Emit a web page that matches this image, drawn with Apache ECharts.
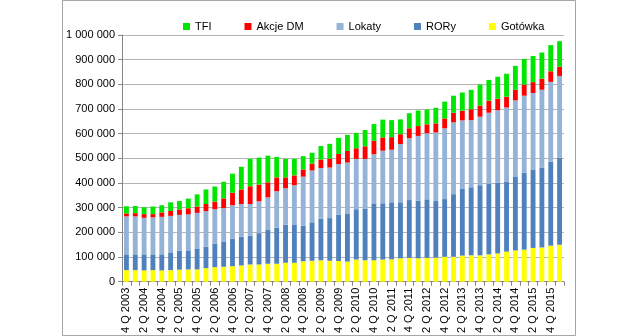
<!DOCTYPE html>
<html><head><meta charset="utf-8">
<script src="https://cdn.jsdelivr.net/npm/echarts@6/dist/echarts.min.js"></script>
<style>html,body{margin:0;padding:0;background:#fff}#c{width:642px;height:336px}</style>
</head><body><div id="c"></div>
<script>
var quarters = [];
(function(){ var q=4,y=2003; for(var i=0;i<50;i++){ quarters.push(q+' Q '+y); q++; if(q>4){q=1;y++;} } })();
var gotowka = [47,47,46,47,46,47,49,50,50,55,59,61,63,66,70,70,73,73,77,77,83,85,87,85,84,82,90,87,87,90,91,95,97,95,97,98,101,101,106,107,107,111,115,122,127,130,137,139,146,150];
var rory    = [64,64,65,64,65,72,77,77,85,87,96,100,111,117,117,127,137,146,154,153,144,156,168,173,187,193,204,210,228,228,231,227,234,234,237,229,234,254,272,276,284,286,287,284,300,312,318,324,341,353];
var lokaty  = [154,154,148,150,152,148,145,146,144,144,139,137,136,132,128,129,132,148,148,161,199,210,206,205,206,208,204,201,202,213,213,236,251,262,268,278,287,291,276,272,278,288,293,300,308,312,310,315,323,331];
var akcjeDM = [12,13,15,13,18,20,22,25,26,29,31,40,51,59,72,68,61,56,44,40,29,28,34,36,41,47,43,51,54,54,51,40,40,40,36,37,40,39,39,44,45,49,47,44,43,45,44,45,43,37];
var tfi     = [29,29,28,31,29,35,34,39,49,59,61,67,77,92,111,109,108,83,75,67,54,44,55,60,65,65,62,66,68,72,69,60,61,63,60,63,68,69,74,79,85,84,89,93,97,104,106,106,106,104];
var seriesNames = ['Gotówka','RORy','Lokaty','Akcje DM','TFI'];
var seriesData = [gotowka, rory, lokaty, akcjeDM, tfi];
var colors = ['#ffff00','#4f81bd','#95b3d7','#ff0000','#00e600'];
var legendOrder = ['TFI','Akcje DM','Lokaty','RORy','Gotówka'];

var chart = echarts.init(document.getElementById('c'));
var font = 'Liberation Sans';
function fmt(v){ return String(v).replace(/\B(?=(\d{3})+(?!\d))/g,' '); }
chart.setOption({
  animation:false,
  textStyle:{fontFamily:font},
  graphic:[{type:'rect',shape:{x:62.5,y:0.5,width:513,height:335},style:{fill:'none',stroke:'#a6a6a6',lineWidth:1},silent:true}],
  legend:{data:legendOrder,left:178,top:16,itemWidth:7,itemHeight:7,itemGap:33,icon:'rect',
    textStyle:{fontFamily:font,fontSize:11,color:'#000'}},
  grid:{left:122,right:78,top:35,bottom:51.5},
  xAxis:{type:'category',data:quarters,
    axisLine:{lineStyle:{color:'#868686'}},
    axisTick:{show:true,interval:0,length:4,lineStyle:{color:'#868686'}},
    axisLabel:{interval:1,rotate:90,fontSize:11,color:'#000',fontFamily:font,margin:6}},
  yAxis:{type:'value',min:0,max:1000000,interval:100000,
    axisLine:{show:true,lineStyle:{color:'#868686'}},
    axisTick:{show:true,length:4,lineStyle:{color:'#868686'}},
    splitLine:{lineStyle:{color:'#b4b4b4'}},
    axisLabel:{formatter:fmt,fontSize:11,color:'#000',fontFamily:font,margin:7}},
  series: seriesNames.map(function(n,i){
    return {name:n,type:'bar',stack:'s',barCategoryGap:'45%',
      itemStyle:{color:colors[i]},
      data:seriesData[i].map(function(v){return v*1000;})};
  })
});
</script></body></html>
